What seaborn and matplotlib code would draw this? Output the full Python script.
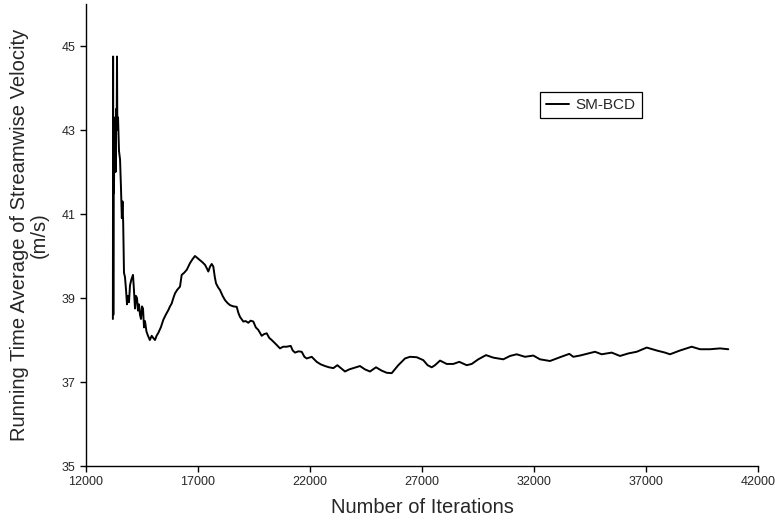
import matplotlib
matplotlib.use("Agg")
import matplotlib.pyplot as plt
import seaborn as sns
import pandas as pd

# ---- data ----
iterations = [
    13200, 13210, 13220, 13235, 13250, 13265, 13280, 13300, 13320, 13345,
    13370, 13384, 13400, 13430, 13473, 13520, 13563, 13600, 13630, 13660,
    13696, 13740, 13786, 13830, 13875, 13920, 13964, 14030, 14098, 14140,
    14188, 14230, 14277, 14320, 14366, 14410, 14455, 14500, 14545, 14590,
    14634, 14700, 14768, 14850, 14933, 15000, 15080, 15150, 15228, 15340,
    15451, 15560, 15674, 15750, 15826, 15900, 15973, 16080, 16196, 16272,
    16380, 16496, 16570, 16643, 16750, 16866, 16980, 17089, 17200, 17313,
    17400, 17460, 17540, 17612, 17683, 17750, 17804, 17900, 17982, 18100,
    18205, 18320, 18429, 18580, 18728, 18800, 18875, 19022, 19130, 19245,
    19350, 19469, 19580, 19692, 19844, 19950, 20067, 20180, 20290, 20480,
    20661, 20800, 20960, 21139, 21230, 21330, 21480, 21630, 21750, 21853,
    22076, 22299, 22480, 22670, 22850, 23042, 23221, 23400, 23563, 23750,
    23935, 24232, 24455, 24679, 24946, 25201, 25424, 25647, 25942, 26241,
    26464, 26763, 27058, 27250, 27433, 27580, 27804, 28103, 28397, 28665,
    28996, 29219, 29513, 29857, 30183, 30629, 30929, 31227, 31598, 31969,
    32268, 32714, 33161, 33576, 33754, 34054, 34424, 34723, 35022, 35469,
    35839, 36210, 36585, 37031, 37478, 37848, 38071, 38518, 39040, 39411,
    39857, 40304, 40674,
]
velocity = [
    38.50, 44.75, 38.60, 43.00, 41.50, 43.20, 42.10, 43.30, 42.00, 43.50,
    43.20, 44.75, 43.00, 43.30, 42.50, 42.30, 41.60, 40.90, 41.30, 40.80,
    39.60, 39.50, 39.20, 38.85, 39.05, 38.90, 39.30, 39.45, 39.55, 39.20,
    38.75, 39.05, 39.00, 38.70, 38.85, 38.60, 38.50, 38.80, 38.75, 38.30,
    38.45, 38.20, 38.10, 38.00, 38.10, 38.05, 38.00, 38.10, 38.17, 38.30,
    38.48, 38.60, 38.71, 38.80, 38.87, 39.00, 39.11, 39.20, 39.27, 39.55,
    39.60, 39.67, 39.75, 39.83, 39.92, 40.00, 39.95, 39.90, 39.85, 39.79,
    39.70, 39.63, 39.75, 39.81, 39.75, 39.50, 39.35, 39.25, 39.19, 39.05,
    38.95, 38.88, 38.83, 38.80, 38.79, 38.65, 38.55, 38.44, 38.45, 38.41,
    38.46, 38.44, 38.30, 38.24, 38.10, 38.14, 38.16, 38.05, 38.00, 37.90,
    37.80, 37.84, 37.84, 37.86, 37.75, 37.70, 37.73, 37.72, 37.60, 37.56,
    37.60, 37.48, 37.42, 37.38, 37.35, 37.33, 37.40, 37.32, 37.25, 37.30,
    37.33, 37.38, 37.30, 37.25, 37.35, 37.27, 37.22, 37.21, 37.40, 37.56,
    37.60, 37.59, 37.52, 37.40, 37.35, 37.40, 37.51, 37.43, 37.43, 37.48,
    37.40, 37.43, 37.54, 37.64, 37.58, 37.54, 37.62, 37.66, 37.60, 37.63,
    37.54, 37.50, 37.59, 37.67, 37.60, 37.63, 37.68, 37.72, 37.66, 37.70,
    37.62, 37.68, 37.72, 37.82, 37.75, 37.70, 37.66, 37.75, 37.84, 37.78,
    37.78, 37.80, 37.78,
]
series_name = "SM-BCD"
x_ticks = [12000, 17000, 22000, 27000, 32000, 37000, 42000]
y_ticks = [35, 37, 39, 41, 43, 45]

df = pd.DataFrame({"Iterations": iterations, "Velocity": velocity})

sns.set_style("ticks")
plt.rcParams["font.family"] = ["Liberation Sans", "DejaVu Sans"]

fig = plt.figure(figsize=(7.75, 5.21), dpi=100)
ax = fig.add_axes([86 / 775, 1 - 466 / 521, 672 / 775, 462 / 521])

sns.lineplot(data=df, x="Iterations", y="Velocity", ax=ax, color="black",
             linewidth=1.4, estimator=None, sort=False, label=series_name)

ax.set_xlim(12000, 42000)
ax.set_ylim(35, 46)
ax.set_xticks(x_ticks)
ax.set_yticks(y_ticks)
ax.tick_params(axis="both", labelsize=9, length=4, width=1, color="black",
               direction="out")
sns.despine(ax=ax)
for s in ("left", "bottom"):
    ax.spines[s].set_color("black")
    ax.spines[s].set_linewidth(1)

ax.set_xlabel("Number of Iterations", fontsize=14.5, labelpad=7)
ax.set_ylabel("Running Time Average of Streamwise Velocity\n(m/s)",
              fontsize=14.5, labelpad=9, linespacing=1.05)

leg = ax.legend(loc="upper left", bbox_to_anchor=(0.676, 0.81), fontsize=11,
                frameon=True, fancybox=False, edgecolor="black", framealpha=1,
                handlelength=1.5, borderpad=0.4, handletextpad=0.4,
                borderaxespad=0)
leg.get_frame().set_linewidth(0.9)

fig.savefig("out.png", dpi=100)
